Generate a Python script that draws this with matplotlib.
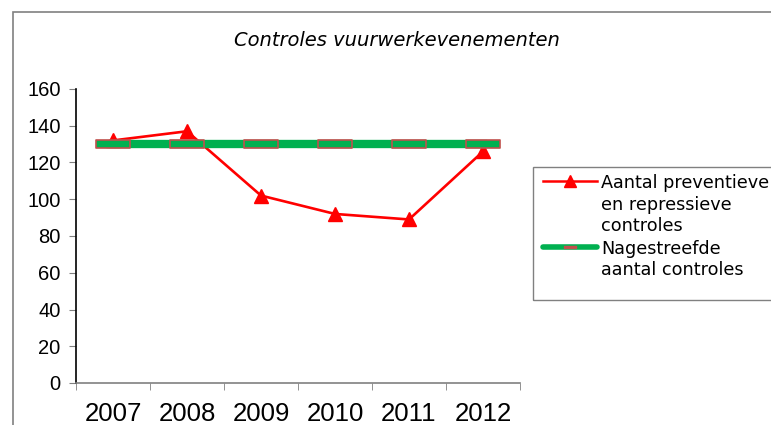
import matplotlib
matplotlib.use("Agg")
import matplotlib.pyplot as plt
from matplotlib.patches import Rectangle
from matplotlib.lines import Line2D
from matplotlib.path import Path

years = ["2007", "2008", "2009", "2010", "2011", "2012"]
aantal = [132, 137, 102, 92, 89, 126]
nagestreefd = [130, 130, 130, 130, 130, 130]
yticks = [0, 20, 40, 60, 80, 100, 120, 140, 160]
label_aantal = ["Aantal preventieve", "en repressieve", "controles"]
label_nagestreefd = ["Nagestreefde", "aantal controles"]

W, H = 771, 425
fig = plt.figure(figsize=(W / 100, H / 100), dpi=100)

def fx(px):
    return px / W

def fy(py):
    return 1 - py / H

RED = "#ff0000"
GREEN = "#00b050"
EDGE = "#c0504d"

# outer chart border
fig.add_artist(Rectangle((fx(13), fy(440)), fx(800) - fx(13), fy(12) - fy(440),
                         transform=fig.transFigure, fill=False, edgecolor="#808080", lw=1.2))

ax = fig.add_axes([fx(76), fy(383), fx(520) - fx(76), fy(89) - fy(383)])
x = list(range(len(years)))

box = Path([(-2.2, -0.5), (2.2, -0.5), (2.2, 0.5), (-2.2, 0.5), (-2.2, -0.5)],
           [Path.MOVETO, Path.LINETO, Path.LINETO, Path.LINETO, Path.CLOSEPOLY])

ax.plot(x, aantal, color=RED, lw=1.9, marker="^", markersize=10,
        markerfacecolor=RED, markeredgecolor=RED, zorder=2)
ax.plot(x, nagestreefd, color=GREEN, lw=6, marker=box, markersize=24,
        markerfacecolor=GREEN, markeredgecolor=EDGE, markeredgewidth=1.2, zorder=3)

ax.set_xlim(-0.5, len(years) - 0.5)
ax.set_ylim(0, 160)
ax.set_yticks(yticks)
ax.set_yticklabels([str(v) for v in yticks], fontsize=14.5, family="Liberation Sans")
ax.set_xticks(x)
ax.set_xticklabels(years, fontsize=18.5, family="Liberation Sans")
ax.set_xticks([i - 0.5 for i in range(len(years) + 1)], minor=True)
ax.tick_params(axis="x", which="major", length=0, pad=14)
ax.tick_params(axis="x", which="minor", length=5, color="#808080", direction="out")
ax.tick_params(axis="y", length=5, color="#808080", direction="out", pad=6)
for s in ["top", "right"]:
    ax.spines[s].set_visible(False)
ax.spines["left"].set_color("black")
ax.spines["bottom"].set_color("#808080")
ax.spines["left"].set_linewidth(1.2)
ax.spines["bottom"].set_linewidth(1.2)

fig.text(fx(397), fy(40), "Controles vuurwerkevenementen", ha="center", va="center",
         fontsize=14, style="italic", family="DejaVu Sans")

# legend frame
fig.add_artist(Rectangle((fx(533), fy(300)), fx(800) - fx(533), fy(167) - fy(300),
                         transform=fig.transFigure, fill=False, edgecolor="#808080", lw=1))

# legend handles
fig.add_artist(Line2D([fx(543), fx(597)], [fy(181), fy(181)], transform=fig.transFigure,
                      color=RED, lw=1.8))
fig.add_artist(Line2D([fx(570)], [fy(181)], transform=fig.transFigure, color=RED,
                      marker="^", markersize=8, markerfacecolor=RED, markeredgecolor=RED))
fig.add_artist(Line2D([fx(543), fx(597)], [fy(247), fy(247)], transform=fig.transFigure,
                      color=GREEN, lw=4, solid_capstyle="round"))
fig.add_artist(Line2D([fx(570)], [fy(247)], transform=fig.transFigure, color=EDGE,
                      marker=box, markersize=8, markerfacecolor=EDGE, markeredgecolor=EDGE))

baselines1 = [188, 209.5, 231]
baselines2 = [253.5, 275]
for t, b in zip(label_aantal, baselines1):
    fig.text(fx(601), fy(b), t, ha="left", va="baseline", fontsize=12.7, family="DejaVu Sans")
for t, b in zip(label_nagestreefd, baselines2):
    fig.text(fx(601), fy(b), t, ha="left", va="baseline", fontsize=12.7, family="DejaVu Sans")

fig.savefig("out.png", dpi=100)
